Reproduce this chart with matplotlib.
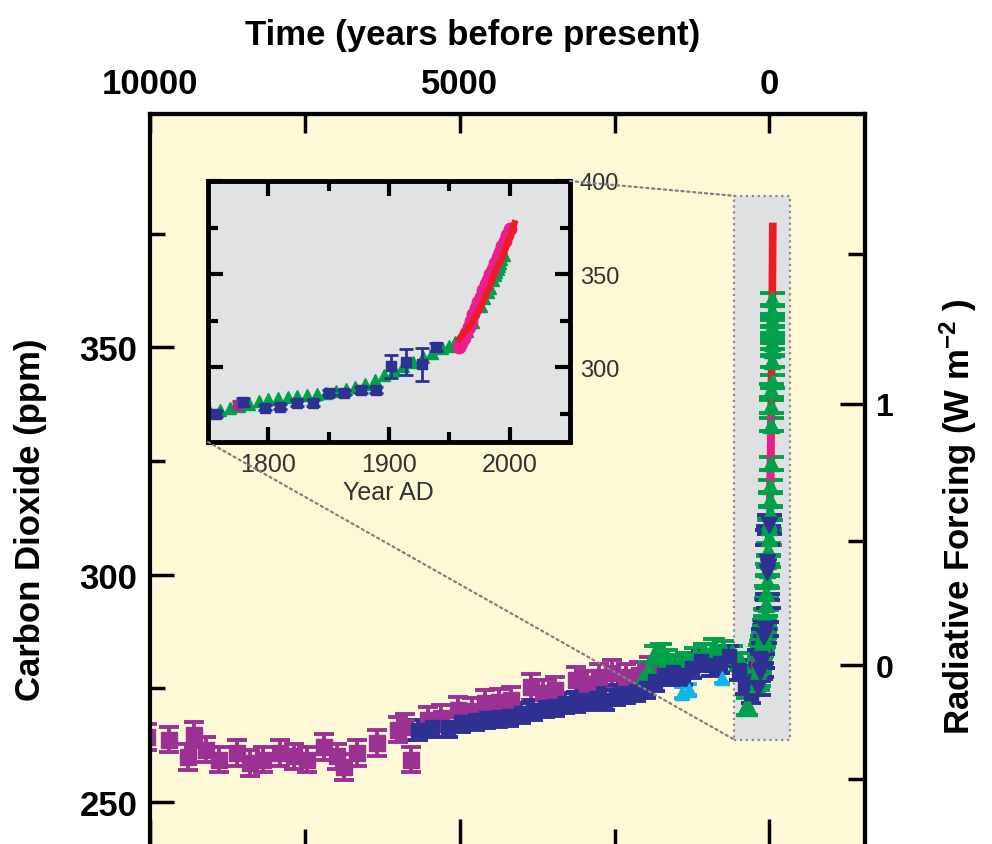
import numpy as np
import matplotlib
matplotlib.use("Agg")
import matplotlib.pyplot as plt
from matplotlib.patches import Rectangle, ConnectionPatch

plt.rcParams['font.family'] = ['Liberation Sans', 'DejaVu Sans']
plt.rcParams['mathtext.default'] = 'regular'

# ---- Holocene ice core records (years before 1950, ppm) ----
pur_bp = [10050, 9700, 9380, 9290, 9090, 8880, 8600, 8390, 8170, 7900, 7680, 7470,
          7190, 6980, 6870, 6660, 6330, 6000, 5890, 5790, 5520, 5300, 5030, 4800,
          4590, 4370, 4170, 3850, 3650, 3460, 3130, 2950, 2760, 2550, 2320, 2110,
          1950, 175]
pur_ppm = [264.3, 263.7, 259.9, 264.8, 261.5, 259.3, 260.8, 258.6, 259.3, 260.8, 260.0, 259.3,
           262.1, 260.0, 257.7, 260.8, 263.0, 265.9, 266.5, 259.3, 268.0, 268.5, 270.3, 270.0,
           271.8, 272.0, 272.5, 275.3, 274.0, 274.7, 276.9, 276.0, 277.5, 278.4, 277.5, 278.0,
           279.0, 280.0]

hol_blu_bp = [5680, 5450, 5190, 4980, 4760, 4580, 4380, 4200, 4010, 3820, 3620, 3460,
              3300, 3130, 2970, 2800, 2650, 2480, 2320, 2160, 2000, 1850, 1700, 1550,
              1400, 1250, 1100, 950, 800, 650, 500, 400, 300, 240]
hol_blu_ppm = [265.9, 266.5, 266.5, 267.5, 268.0, 268.5, 268.7, 269.0, 269.6, 270.3, 270.9, 271.2,
               271.8, 272.0, 272.5, 272.8, 272.5, 273.5, 274.0, 274.5, 275.0, 276.5, 278.0, 278.5,
               278.0, 279.5, 281.0, 280.0, 280.5, 282.0, 279.0, 276.0, 274.0, 276.5]

hol_grn_bp = [2050, 1950, 1850, 1750, 1650, 1550, 1450, 1350, 1200, 1050, 900, 750, 600, 480, 360]
hol_grn_ppm = [276.5, 279.0, 282.5, 283.0, 281.5, 280.5, 280.0, 281.0, 282.0, 283.0, 284.0,
               283.5, 282.5, 281.0, 271.0]

cyn_bp = [1410, 1300, 760]
cyn_ppm = [274.0, 274.7, 277.3]

# ---- industrial era (year AD, ppm) ----
grn_yr = [1752, 1760, 1768, 1776, 1784, 1792, 1800, 1808, 1816, 1824, 1832, 1840, 1848,
          1856, 1864, 1872, 1880, 1888, 1896, 1904, 1912, 1920, 1928, 1936, 1944, 1950,
          1955, 1960, 1965, 1970, 1976, 1979, 1982, 1984, 1986, 1988, 1989, 1990, 1991,
          1992, 1993, 1995]
grn_ppm = [276.0, 277.0, 278.5, 279.5, 280.5, 282.0, 283.0, 283.5, 284.0, 284.5, 285.0, 285.5,
           286.5, 287.5, 288.5, 289.5, 291.0, 293.5, 296.0, 298.5, 301.0, 303.0, 305.5, 308.0,
           310.5, 311.5, 313.5, 316.5, 319.5, 324.5, 333.0, 337.0, 340.5, 342.5, 347.0, 349.5,
           351.0, 353.0, 354.5, 356.0, 358.0, 360.5]

blu_yr = [1757, 1779, 1797, 1810, 1824, 1837, 1850, 1863, 1877, 1889, 1902, 1914, 1927, 1939]
blu_ppm = [275.0, 281.5, 278.5, 279.0, 281.0, 281.0, 286.5, 286.5, 288.0, 288.0,
           300.5, 302.7, 301.6, 311.0]
blu_err = [1.5, 2.0, 1.5, 1.5, 1.5, 1.5, 1.5, 1.5, 1.5, 1.5, 6.0, 7.0, 9.0, 2.0]

pnk_yr = [1958, 1960, 1962, 1964, 1966, 1968, 1970, 1972, 1974, 1976, 1978, 1980, 1982,
          1984, 1986, 1988, 1990, 1992, 1994, 1996, 1998, 2000]
pnk_ppm = [311.0, 313.0, 316.0, 318.5, 321.5, 325.0, 328.5, 332.0, 335.0, 338.0, 341.5,
           344.5, 347.0, 350.0, 353.0, 356.0, 359.0, 362.0, 365.0, 368.0, 371.0, 374.0]

red_yr = [1958, 1960, 1962, 1964, 1966, 1968, 1970, 1972, 1974, 1976, 1978, 1980, 1982,
          1984, 1986, 1988, 1990, 1992, 1994, 1996, 1998, 2000, 2002, 2004]
red_ppm = [315.3, 316.9, 318.4, 319.6, 321.4, 323.0, 325.7, 327.5, 330.2, 332.0, 335.4,
           338.7, 341.1, 344.4, 347.2, 351.5, 354.4, 356.3, 358.8, 362.6, 366.5, 369.5,
           373.1, 377.4]

# zoom box drawn on the main panel (years BP / ppm)
box_bp = (568, -325)
box_ppm = (263.7, 383.3)

PURPLE = '#9b3192'
NAVY = '#2e3191'
GREEN = '#00a14b'
CYAN = '#12b5ea'
RED = '#ec1c24'
PINK = '#ea1e8c'
INK = '#333333'

W, H = 992, 845
fig = plt.figure(figsize=(W / 100, H / 100), dpi=100)


def px_box(x0, y0, x1, y1):
    return [x0 / W, 1 - y1 / H, (x1 - x0) / W, (y1 - y0) / H]


ax = fig.add_axes(px_box(150, 115, 865, 862))
ax.set_facecolor('#fdf9d7')
ax.set_xlim(10000, -1542)
ax.set_ylim(237, 401.3)

ax.add_patch(Rectangle((box_bp[0], box_ppm[0]), box_bp[1] - box_bp[0], box_ppm[1] - box_ppm[0],
                       facecolor='#dfe0e2', edgecolor='#8a8a8a', ls=':', lw=1.6, zorder=0.5))

eb = dict(capthick=2.8, elinewidth=2.8, linestyle='none')
ax.errorbar(cyn_bp, cyn_ppm, yerr=1.2, fmt='^', color=CYAN, ms=10, capsize=6, **eb)
ax.errorbar(pur_bp, pur_ppm, yerr=2.8, fmt='s', color=PURPLE, ms=11.5, capsize=7, **eb)
ax.errorbar(hol_grn_bp, hol_grn_ppm, yerr=1.8, fmt='^', color=GREEN, ms=14, capsize=8, **eb)
ax.errorbar(hol_blu_bp, hol_blu_ppm, yerr=2.2, fmt='s', color=NAVY, ms=10.5, capsize=7, **eb)

g_bp = 1950 - np.array(grn_yr)
b_bp = 1950 - np.array(blu_yr)
p_bp = 1950 - np.array(pnk_yr)
r_bp = 1950 - np.array(red_yr)
ax.errorbar(g_bp, grn_ppm, yerr=1.4, fmt='^', color=GREEN, ms=12, capsize=9, **eb)
ax.errorbar(b_bp, blu_ppm, yerr=blu_err, fmt='v', color=NAVY, ms=12, capsize=9, **eb)
ax.plot(r_bp, red_ppm, color=RED, lw=5.5, solid_capstyle='butt')
early = np.array(pnk_yr) <= 1975
ax.plot(p_bp[early], np.array(pnk_ppm)[early], color=PINK, lw=5.5, solid_capstyle='butt')

for s in ax.spines.values():
    s.set_linewidth(3)

ax.set_xticks([10000, 5000, 0])
ax.set_xticks([7500, 2500], minor=True)
ax.tick_params(axis='x', which='both', direction='in', width=2.5, labelbottom=False, top=False)
ax.tick_params(axis='x', which='major', length=30)
ax.tick_params(axis='x', which='minor', length=23)

ax.set_yticks([250, 300, 350], labels=['250', '300', '350'], fontsize=25, fontweight='bold')
ax.set_yticks([275, 325, 375], minor=True)
ax.tick_params(axis='y', which='both', direction='in', width=2.5, pad=9, right=False)
ax.tick_params(axis='y', which='major', length=17)
ax.tick_params(axis='y', which='minor', length=11)

secx = ax.secondary_xaxis('top')
secx.set_xticks([10000, 5000, 0], labels=['10000', '5000', '0'], fontsize=25, fontweight='bold')
secx.set_xticks([7500, 2500], minor=True)
secx.tick_params(which='both', direction='in', length=14, width=2.5, pad=10)
secx.spines['top'].set_linewidth(3)


def rf_fwd(c):
    return 5.35 * np.log(np.asarray(c, dtype=float) / 280.0)


def rf_inv(f):
    return 280.0 * np.exp(np.asarray(f, dtype=float) / 5.35)


secy = ax.secondary_yaxis('right', functions=(rf_fwd, rf_inv))
secy.set_yticks([0, 1], labels=['0', '1'], fontsize=23, fontweight='bold')
secy.set_yticks([-0.5, 0.5, 1.5], minor=True)
secy.tick_params(which='major', direction='in', length=18, width=2.5, pad=8)
secy.tick_params(which='minor', direction='in', length=12, width=2.5)
secy.spines['right'].set_linewidth(3)

fig.text(473 / W, 1 - 35 / H, 'Time (years before present)', ha='center', va='center',
         fontsize=25, fontweight='bold')
fig.text(31 / W, 1 - 520 / H, 'Carbon Dioxide (ppm)', rotation=90, ha='center', va='center',
         fontsize=25, fontweight='bold')
fig.text(958 / W, 1 - 517 / H, 'Radiative Forcing (W m$^{-2}$ )', rotation=90, ha='center',
         va='center', fontsize=25, fontweight='bold')

# ---- inset ----
axin = fig.add_axes(px_box(208, 182, 570, 443))
axin.set_facecolor('#e1e2e4')
axin.set_xlim(1750, 2050)
axin.set_ylim(260, 400)

eb2 = dict(capthick=2, elinewidth=2, linestyle='none')
axin.errorbar(1950 - np.array(pur_bp), pur_ppm, yerr=1.8, fmt='s', color=PURPLE, ms=7, capsize=4, **eb2)
axin.plot(grn_yr, grn_ppm, '^', color=GREEN, ms=9, ls='none')
axin.errorbar(blu_yr, blu_ppm, yerr=blu_err, fmt='s', color=NAVY, ms=6.5, capsize=5, **eb2)
axin.plot(pnk_yr, pnk_ppm, 'o-', color=PINK, ms=9, lw=7)
axin.plot(red_yr, red_ppm, color=RED, lw=4.5)

for s in axin.spines.values():
    s.set_linewidth(3.5)
axin.set_xticks([1800, 1900, 2000], labels=['1800', '1900', '2000'], fontsize=18,
                fontweight='normal', color=INK)
axin.set_xticks([1850, 1950], minor=True)
axin.set_yticks([300, 350, 400], labels=['300', '350', '400'], fontsize=17,
                fontweight='normal', color=INK)
axin.set_yticks([275, 325, 375], minor=True)
axin.tick_params(which='both', direction='in', width=3, top=True, right=True,
                 labelleft=False, labelright=True)
axin.tick_params(which='major', length=11, pad=7)
axin.tick_params(which='minor', length=7)
fig.text(388 / W, 1 - 493 / H, 'Year AD', ha='center', va='center', fontsize=18, color=INK)

for xyA, xyB in [((1, 1), (box_bp[0], box_ppm[1])), ((0, 0), (box_bp[0], box_ppm[0]))]:
    con = ConnectionPatch(xyA=xyA, coordsA=axin.transAxes, xyB=xyB, coordsB=ax.transData,
                          color='#808080', ls=':', lw=1.6)
    fig.add_artist(con)

fig.savefig('out.png', dpi=100, facecolor='white')
